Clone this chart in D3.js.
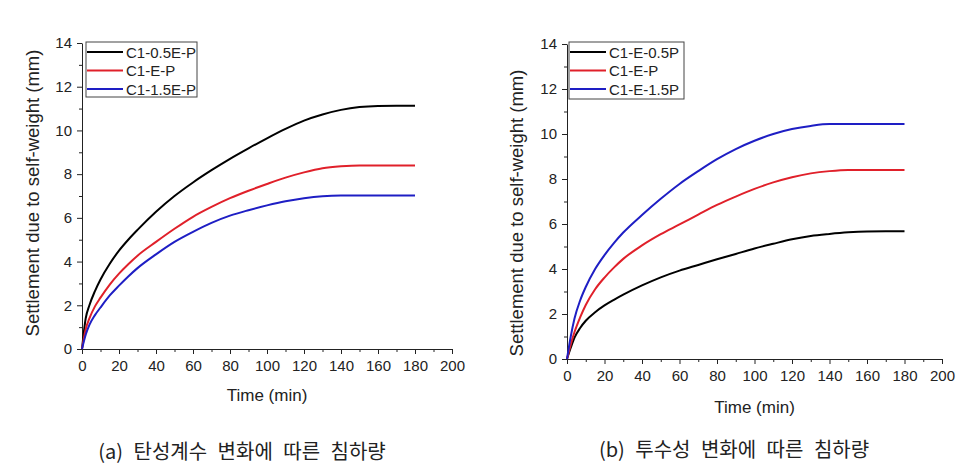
<!DOCTYPE html>
<html><head><meta charset="utf-8">
<script src="https://cdn.jsdelivr.net/npm/d3@7"></script>
<style>
body{margin:0;background:#fff;}
svg{display:block;}
text{font-family:"Liberation Sans",Arial,sans-serif;fill:#222;}
.cap{font-family:"Noto Sans CJK KR",sans-serif;}
</style></head>
<body>
<svg id="c" width="969" height="471"></svg>
<script>
// ---- data ----
const time = [0, 2, 4, 7, 10, 15, 20, 25, 30, 40, 50, 60, 70, 80, 90, 100, 110, 120, 130, 140, 150, 160, 170, 180];
// panel (a): elastic modulus variation
const aBlack = [0, 1.4, 2.0, 2.65, 3.18, 3.9, 4.5, 5.0, 5.45, 6.28, 7.0, 7.62, 8.18, 8.7, 9.18, 9.64, 10.07, 10.45, 10.73, 10.94, 11.07, 11.12, 11.13, 11.13];
const aRed   = [0, 0.9, 1.4, 1.95, 2.35, 2.95, 3.45, 3.88, 4.27, 4.9, 5.5, 6.05, 6.5, 6.9, 7.24, 7.55, 7.84, 8.08, 8.27, 8.36, 8.4, 8.4, 8.4, 8.4];
const aBlue  = [0, 0.65, 1.1, 1.55, 1.9, 2.45, 2.9, 3.32, 3.7, 4.33, 4.9, 5.36, 5.77, 6.1, 6.35, 6.57, 6.76, 6.9, 6.99, 7.02, 7.02, 7.02, 7.02, 7.02];
// panel (b): permeability variation
const bBlack = [0, 0.5, 0.95, 1.38, 1.7, 2.08, 2.38, 2.63, 2.86, 3.27, 3.63, 3.93, 4.18, 4.43, 4.67, 4.91, 5.12, 5.32, 5.47, 5.56, 5.63, 5.67, 5.68, 5.68];
const bRed   = [0, 0.65, 1.2, 1.85, 2.4, 3.1, 3.62, 4.06, 4.45, 5.05, 5.55, 5.98, 6.42, 6.85, 7.22, 7.56, 7.85, 8.08, 8.25, 8.35, 8.4, 8.4, 8.4, 8.4];
const bBlue  = [0, 1.0, 1.8, 2.6, 3.2, 4.0, 4.62, 5.15, 5.62, 6.4, 7.12, 7.78, 8.35, 8.88, 9.33, 9.7, 10.0, 10.22, 10.36, 10.44, 10.44, 10.44, 10.44, 10.44];
const aLabels = ["C1-0.5E-P", "C1-E-P", "C1-1.5E-P"];
const bLabels = ["C1-E-0.5P", "C1-E-P", "C1-E-1.5P"];
const xTicks = [0, 20, 40, 60, 80, 100, 120, 140, 160, 180, 200];
const yTicks = [0, 2, 4, 6, 8, 10, 12, 14];
const xTitle = "Time (min)";
const yTitle = "Settlement due to self-weight (mm)";
const captions = ["(a) 탄성계수 변화에 따른 침하량", "(b) 투수성 변화에 따른 침하량"];
const colors = ["#000000", "#e0202a", "#1e1ec4"];

const svg = d3.select("#c");

function panel(o) {
  const x = d3.scaleLinear().domain([0, 200]).range([o.x0, o.x1]);
  const y = d3.scaleLinear().domain([0, 14]).range([o.y0, o.y1]);
  const g = svg.append("g");
  // minor ticks
  const xm = d3.range(10, 200, 20), ym = d3.range(1, 14, 2);
  g.append("g").attr("transform", `translate(0,${o.y0})`)
    .call(d3.axisBottom(x).tickValues(xm).tickSize(3).tickFormat(""))
    .call(s => s.select(".domain").remove());
  g.append("g").attr("transform", `translate(${o.x0},0)`)
    .call(d3.axisLeft(y).tickValues(ym).tickSize(3).tickFormat(""))
    .call(s => s.select(".domain").remove());
  const xa = g.append("g").attr("transform", `translate(0,${o.y0})`)
    .call(d3.axisBottom(x).tickValues(xTicks).tickSize(5).tickSizeOuter(0).tickPadding(6));
  const ya = g.append("g").attr("transform", `translate(${o.x0},0)`)
    .call(d3.axisLeft(y).tickValues(yTicks).tickSize(5).tickSizeOuter(0).tickPadding(5));
  [xa, ya].forEach(a => {
    a.selectAll("text").style("font-size", "15px").attr("fill", "#222").style("font-family", "Liberation Sans, Arial, sans-serif");
    a.selectAll("line,path").attr("stroke", "#222");
  });
  g.selectAll(".tick line").attr("stroke", "#222");

  const line = d3.line().x((d, i) => x(time[i])).y(d => y(d)).curve(d3.curveMonotoneX);
  o.series.forEach((s, i) => {
    g.append("path").datum(s).attr("d", line).attr("fill", "none")
      .attr("stroke", colors[i]).attr("stroke-width", 2);
  });

  // legend
  const lg = g.append("g");
  lg.append("rect").attr("x", o.lx).attr("y", o.ly).attr("width", o.lw).attr("height", o.lh)
    .attr("fill", "#fff").attr("stroke", "#444").attr("stroke-width", 1);
  o.labels.forEach((t, i) => {
    const yy = o.ly + 10 + i * 18.5;
    lg.append("line").attr("x1", o.lx + 1).attr("x2", o.lx + 37).attr("y1", yy).attr("y2", yy)
      .attr("stroke", colors[i]).attr("stroke-width", 2.2);
    lg.append("text").attr("x", o.lx + 40).attr("y", yy + 5.5).style("font-size", "15px").text(t);
  });

  g.append("text").attr("x", (o.x0 + o.x1) / 2).attr("y", o.xty).attr("text-anchor", "middle")
    .style("font-size", "17px").text(xTitle);
  g.append("text").attr("transform", `translate(${o.ytx},${o.ytc}) rotate(-90)`)
    .attr("text-anchor", "middle").attr("dy", "0.35em").style("font-size", "18.5px").text(yTitle);
  g.append("text").attr("class", "cap").attr("x", o.cx).attr("y", o.cy).attr("text-anchor", "middle")
    .style("font-size", "20px").style("word-spacing", "6px").text(o.caption);
}

panel({x0: 82, x1: 452, y0: 349, y1: 43, series: [aBlack, aRed, aBlue], labels: aLabels,
  lx: 86, ly: 42, lw: 111, lh: 55, xty: 401, ytx: 33, ytc: 193, cx: 242, cy: 459, caption: captions[0]});
panel({x0: 567, x1: 942, y0: 359, y1: 44, series: [bBlack, bRed, bBlue], labels: bLabels,
  lx: 569, ly: 42, lw: 115, lh: 57, xty: 413, ytx: 517, ytc: 213, cx: 734, cy: 457, caption: captions[1]});
</script>
</body></html>
